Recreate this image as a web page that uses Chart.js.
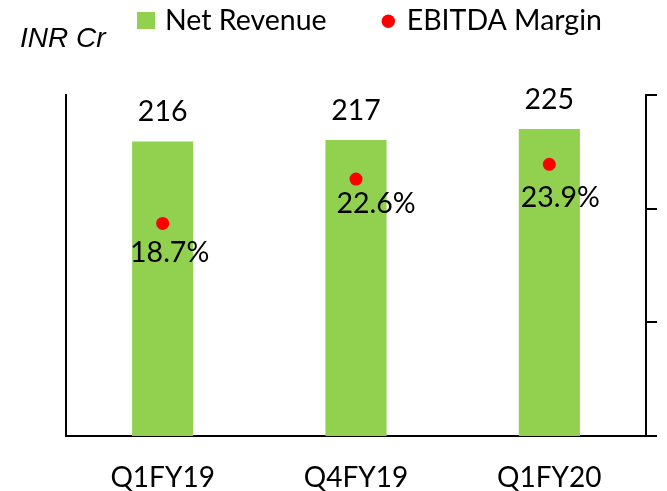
<!DOCTYPE html>
<html><head><meta charset="utf-8">
<script src="https://cdn.jsdelivr.net/npm/chart.js@4/dist/chart.umd.min.js"></script>
<style>html,body{margin:0;padding:0;background:#fff}#wrap{width:667px;height:491px}</style>
</head><body><div id="wrap"><canvas id="c" width="667" height="491"></canvas></div>
<script>
const categories = ['Q1FY19', 'Q4FY19', 'Q1FY20'];
const netRevenue = [216, 217, 225];
const ebitdaMargin = [18.7, 22.6, 23.9];
const marginLabels = ['18.7%', '22.6%', '23.9%'];
const seriesNames = ['Net Revenue', 'EBITDA Margin'];
const unitLabel = 'INR Cr';

const FONT = 'Lato, "Open Sans", sans-serif';
const GREEN = '#92D050';
const RED = '#FF0000';

const labelPlugin = {
  id: 'labels',
  afterDraw(chart, args, opts) {
    const ctx = chart.ctx;
    ctx.save();
    ctx.fillStyle = '#000';
    ctx.textAlign = 'center';
    ctx.textBaseline = 'alphabetic';
    ctx.font = opts.fontSize + 'px ' + FONT;
    chart.getDatasetMeta(0).data.forEach((el, i) => {
      ctx.fillText(String(netRevenue[i]), el.x, el.y - 20);
    });
    chart.getDatasetMeta(1).data.forEach((el, i) => {
      const o = opts.pctOffsets[i];
      ctx.fillText(marginLabels[i], el.x + o[0], el.y + o[1]);
    });
    // legend
    ctx.textAlign = 'left';
    ctx.font = opts.fontSize + 'px ' + FONT;
    ctx.fillStyle = GREEN;
    ctx.fillRect(137, 12, 18, 17);
    ctx.fillStyle = '#000';
    ctx.fillText(seriesNames[0], 165, 30);
    ctx.fillStyle = RED;
    ctx.beginPath(); ctx.arc(388.3, 21.3, 6.7, 0, Math.PI * 2); ctx.fill();
    ctx.fillStyle = '#000';
    ctx.fillText(seriesNames[1], 406.7, 30);
    // unit
    ctx.font = 'italic 28px "Liberation Sans", Arial, sans-serif';
    ctx.fillText(unitLabel, 20, 46.5);
    ctx.restore();
  }
};

new Chart(document.getElementById('c'), {
  data: {
    labels: categories,
    datasets: [
      { type: 'bar', label: seriesNames[0], data: netRevenue, backgroundColor: GREEN,
        categoryPercentage: 1, barPercentage: 0.316, yAxisID: 'y', order: 2 },
      { type: 'line', label: seriesNames[1], data: ebitdaMargin, showLine: false,
        pointRadius: 6.5, pointHoverRadius: 6.5, pointBackgroundColor: RED, pointBorderWidth: 0,
        borderColor: RED, yAxisID: 'y1', order: 1 }
    ]
  },
  options: {
    responsive: false,
    animation: false,
    events: [],
    layout: { padding: { left: 66, right: 10, top: 95, bottom: 0 } },
    plugins: {
      legend: { display: false },
      tooltip: { enabled: false },
      labels: { fontSize: 28.5, pctOffsets: [[7, 39], [20, 34], [11, 43]] }
    },
    scales: {
      x: {
        grid: { display: false, drawTicks: false },
        border: { display: true, color: '#000', width: 2 },
        ticks: { color: '#000', font: { family: FONT, size: 28 }, padding: 25, maxRotation: 0 },
        afterFit(s) { s.height = 55; }
      },
      y: {
        position: 'left', min: 0, max: 250,
        grid: { display: false, drawTicks: false },
        border: { display: true, color: '#000', width: 2 },
        ticks: { display: false },
        afterFit(s) { s.width = 0; }
      },
      y1: {
        position: 'right', min: 0, max: 30,
        grid: { drawOnChartArea: false, drawTicks: true, tickLength: 11, color: '#000', lineWidth: 2 },
        border: { display: true, color: '#000', width: 2 },
        ticks: { display: false, stepSize: 10 },
        afterFit(s) { s.width = 11; }
      }
    }
  },
  plugins: [labelPlugin]
});
</script>
</body></html>
